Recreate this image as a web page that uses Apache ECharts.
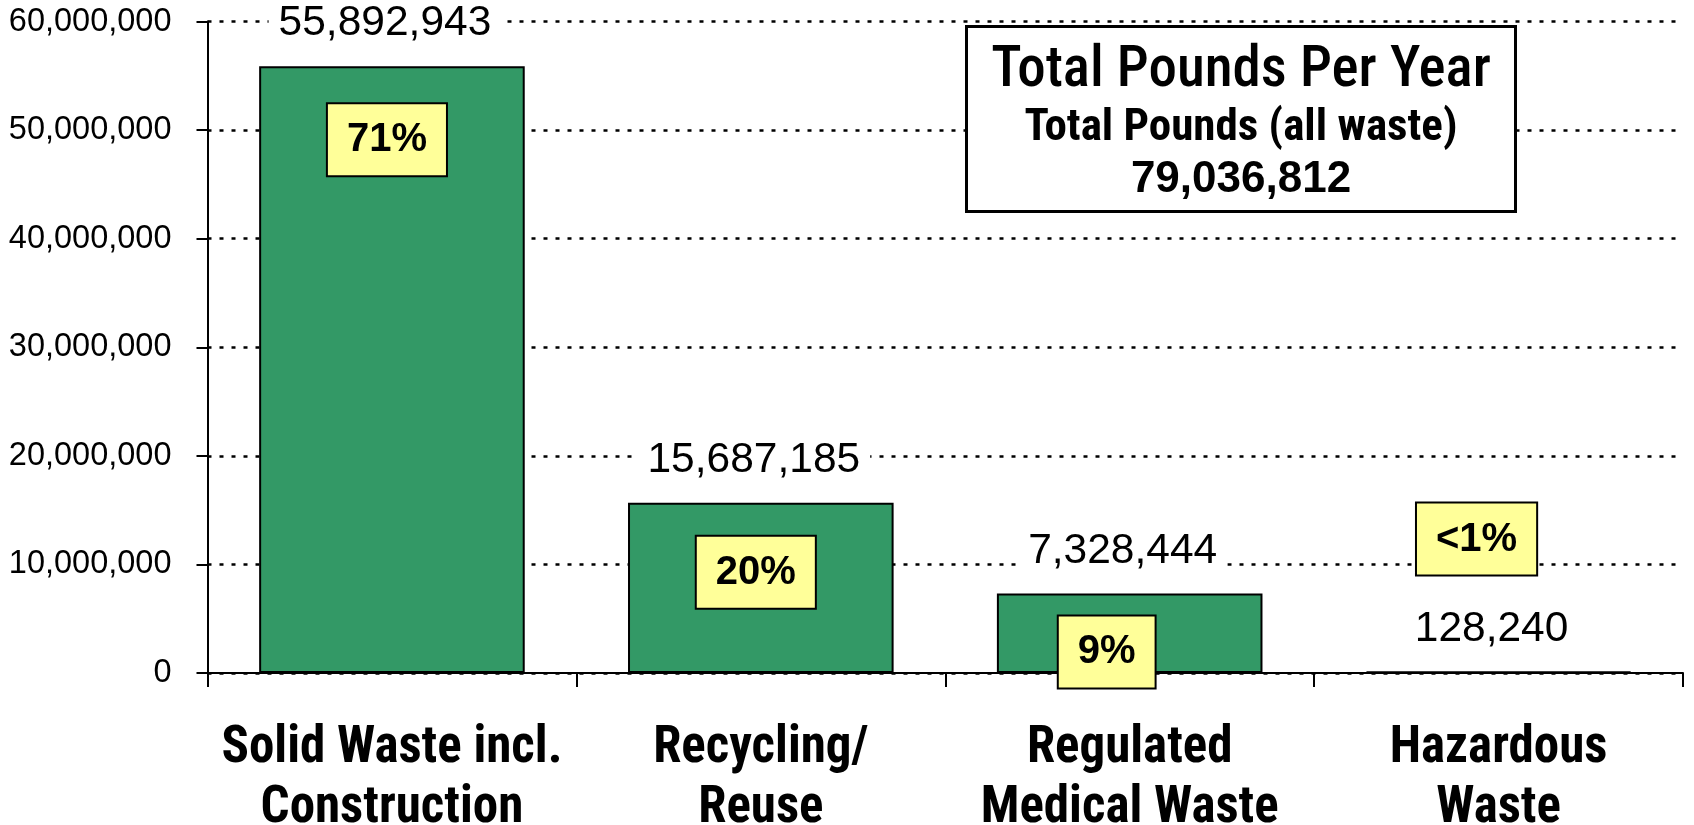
<!DOCTYPE html>
<html>
<head>
<meta charset="utf-8">
<script src="https://cdn.jsdelivr.net/npm/echarts@6/dist/echarts.min.js"></script>
<style>
html,body{margin:0;padding:0;background:#fff;}
#chart{width:1694px;height:825px;}
</style>
</head>
<body>
<div id="chart"></div>
<script>
// ---- data ----
const categories = ['Solid Waste incl.\nConstruction', 'Recycling/\nReuse', 'Regulated\nMedical Waste', 'Hazardous\nWaste'];
const pounds = [55892943, 15687185, 7328444, 128240];
const percentLabels = ['71%', '20%', '9%', '<1%'];
const totalTitle = 'Total Pounds Per Year';
const totalSubtitle = 'Total Pounds (all waste)';
const totalPounds = 79036812;
const yMin = 0, yMax = 60000000, yInterval = 10000000;

// ---- layout / style ----
const pctOffsets = [[-5, 38], [-5, 34], [-23, 23], [-22, -168]];
const COND = '"Roboto Condensed", "Open Sans", sans-serif';
const SANS = '"Liberation Sans", Arial, sans-serif';
const fmt = v => Number(v).toLocaleString('en-US');

const chart = echarts.init(document.getElementById('chart'), null, {renderer: 'canvas'});
chart.setOption({
  backgroundColor: '#ffffff',
  animation: false,
  title: {
    left: 967, top: 24,
    backgroundColor: '#ffffff',
    borderColor: '#000', borderWidth: 3,
    padding: [17, 25, 10, 25],
    text: '{a|' + totalTitle + '}\n{b|' + totalSubtitle + '}\n{c|' + fmt(totalPounds) + '}',
    textStyle: {
      rich: {
        a: {fontFamily: COND, fontSize: 57, fontWeight: 500, color: '#000', lineHeight: 62, width: 498, align: 'center'},
        b: {fontFamily: COND, fontSize: 45, fontWeight: 'bold', color: '#000', lineHeight: 52, width: 498, align: 'center'},
        c: {fontFamily: SANS, fontSize: 44, fontWeight: 'bold', color: '#000', lineHeight: 50, width: 498, align: 'center'}
      }
    }
  },
  grid: {left: 207.5, right: 11, top: 21.6, bottom: 152, outerBoundsMode: 'none', containLabel: false},
  xAxis: {
    type: 'category',
    data: categories,
    axisLine: {show: true, lineStyle: {color: '#000', width: 2}},
    axisTick: {show: true, alignWithLabel: false, length: 14, lineStyle: {color: '#000', width: 2}},
    axisLabel: {interval: 0, margin: 46, fontFamily: COND, fontSize: 51, fontWeight: 'bold', color: '#000', lineHeight: 60},
    splitLine: {show: false}
  },
  yAxis: {
    type: 'value',
    min: yMin, max: yMax, interval: yInterval,
    axisLine: {show: true, lineStyle: {color: '#000', width: 2}},
    axisTick: {show: true, length: 11, lineStyle: {color: '#000', width: 2}},
    axisLabel: {margin: 36, fontFamily: SANS, fontSize: 32.5, color: '#000', formatter: v => fmt(v)},
    splitLine: {show: true, lineStyle: {color: '#000', width: 2.5, type: [4, 8]}}
  },
  series: [
    {
      type: 'bar',
      data: pounds,
      barWidth: '72%',
      itemStyle: {color: '#339966', borderColor: '#000', borderWidth: 2},
      label: {
        show: true, position: 'top', distance: 19, offset: [-7, 0],
        fontFamily: SANS, fontSize: 42.5, color: '#000',
        backgroundColor: '#ffffff', padding: [2, 10],
        formatter: p => fmt(p.value)
      },
      z: 2
    },
    {
      type: 'bar',
      barGap: '-100%',
      barWidth: '72%',
      data: pounds.map((v, i) => ({
        value: v,
        label: {offset: pctOffsets[i], formatter: percentLabels[i]}
      })),
      itemStyle: {color: 'rgba(0,0,0,0)', borderWidth: 0},
      label: {
        show: true, position: 'insideTop', distance: 0,
        fontFamily: SANS, fontSize: 40, fontWeight: 'bold', color: '#000',
        backgroundColor: '#FFFF99', borderColor: '#000', borderWidth: 2,
        padding: [13, 19, 12, 19], lineHeight: 46
      },
      z: 3,
      silent: true
    }
  ]
});
</script>
</body>
</html>
